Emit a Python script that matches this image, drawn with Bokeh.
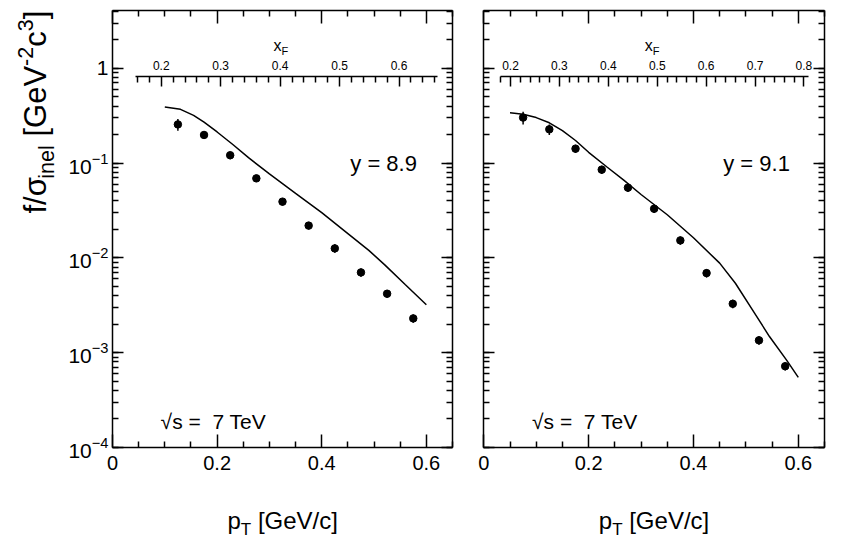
import numpy as np
from bokeh.plotting import figure
from bokeh.models import (Range1d, LinearAxis, LogAxis, FixedTicker, LogTicker,
                          CustomJSTickFormatter, Label)
from bokeh.layouts import row
from bokeh.embed import file_html
from bokeh.resources import INLINE

FONT = "Liberation Sans"

# ---------------- data ----------------
pt_left = [0.125, 0.175, 0.225, 0.275, 0.325, 0.375, 0.425, 0.475, 0.525, 0.575]
val_left = [0.256, 0.198, 0.121, 0.069, 0.0392, 0.0219, 0.0126, 0.00703, 0.00419, 0.00230]
err_left = [0.036, 0.018, 0.011, 0.006, 0.0035, 0.002, 0.0013, 0.0007, 0.0004, 0.00023]

model_pt_left = [0.10, 0.13, 0.155, 0.175, 0.20, 0.23, 0.26, 0.30, 0.35, 0.40, 0.45, 0.49, 0.52, 0.56, 0.60]
model_left = [0.391, 0.369, 0.319, 0.270, 0.213, 0.157, 0.114, 0.077, 0.048, 0.030, 0.018, 0.0120, 0.0085, 0.0052, 0.0032]

pt_right = [0.075, 0.125, 0.175, 0.225, 0.275, 0.325, 0.375, 0.425, 0.475, 0.525, 0.575]
val_right = [0.302, 0.227, 0.142, 0.0853, 0.0551, 0.0330, 0.0153, 0.00691, 0.00328, 0.00135, 0.00072]
err_right = [0.047, 0.029, 0.0142, 0.0085, 0.0055, 0.0033, 0.0015, 0.0007, 0.00033, 0.00014, 0.00007]

model_pt_right = [0.05, 0.075, 0.10, 0.125, 0.15, 0.175, 0.20, 0.235, 0.267, 0.30, 0.35, 0.40, 0.45, 0.48, 0.515, 0.545, 0.578, 0.60]
model_right = [0.340, 0.328, 0.302, 0.266, 0.220, 0.173, 0.130, 0.091, 0.066, 0.0466, 0.0285, 0.0163, 0.0088, 0.0054, 0.0027, 0.00148, 0.00083, 0.00055]

x_ticks = [0.0, 0.2, 0.4, 0.6]
x_minor = [0.05, 0.1, 0.15, 0.25, 0.3, 0.35, 0.45, 0.5, 0.55, 0.65]

xf_ticks_left = [0.2, 0.3, 0.4, 0.5, 0.6]
xf_ticks_right = [0.2, 0.3, 0.4, 0.5, 0.6, 0.7, 0.8]
xf_range_left = (0.118, 0.690)      # x_F at pT = 0 and pT = 0.65
xf_range_right = (0.1454, 0.842)
xf_bounds_left = (0.156, 0.665)
xf_bounds_right = (0.18, 0.81)
xf_minor_step = 0.02
xf_axis_y = 0.81

rap_left = "y = 8.9"
rap_right = "y = 9.1"
energy_text = "\u221as = \u00a07 TeV"

X_PANEL = (0.0, 0.65)
Y_PANEL = (1e-4, 4.07)

# ---------------- layout constants (pixels) ----------------
H = 539
FIG_W = (467, 378)
PANEL_PX_X = ((112.0, 452.0), (16.3, 357.0))   # panel box inside each figure
PANEL_PX_Y = (10.0, 447.0)                      # top, bottom

# Arial / Liberation Sans advance widths (per 1000 em)
W = {' ': 278, 'f': 278, '/': 278, '\u03c3': 568, 'i': 222, 'n': 556, 'e': 556, 'l': 222,
     '[': 278, ']': 278, 'G': 778, 'V': 667, '-': 333, '2': 556, 'c': 500, '3': 556,
     'p': 556, 'T': 611, 'x': 500, 'F': 611}


def text_width(t, size):
    return sum(W.get(ch, 556) for ch in t) * size / 1000.0


def rich(p, segs, x0, y0, angle=0.0):
    pos = 0.0
    for t, size, shift in segs:
        lead = len(t) - len(t.lstrip(" "))
        pos += text_width(" " * lead, size)
        t = t.lstrip(" ")
        if angle == 0.0:
            x, y = x0 + pos, y0 + shift
        else:
            x, y = x0 - shift, y0 + pos
        p.add_layout(Label(x=x, y=y, x_units="screen", y_units="screen", text=t,
                           angle=angle, text_font_size=f"{size}px", text_font=FONT,
                           text_color="black", text_align="left",
                           text_baseline="alphabetic"))
        pos += text_width(t, size)


def minor_list(bounds, majors, step):
    vals = np.arange(np.ceil(bounds[0] / step) * step, bounds[1] + 1e-9, step)
    out = []
    for v in vals:
        v = round(float(v), 3)
        if all(abs(v - m) > 1e-6 for m in majors):
            out.append(v)
    return out


def style_axis(ax, tin, tmin):
    ax.axis_line_color = "black"
    ax.axis_line_width = 1.5
    ax.major_tick_line_color = "black"
    ax.minor_tick_line_color = "black"
    ax.major_tick_line_width = 1.5
    ax.minor_tick_line_width = 1.5
    ax.major_tick_in = tin
    ax.major_tick_out = 0
    ax.minor_tick_in = tmin
    ax.minor_tick_out = 0
    ax.major_label_text_font = FONT
    ax.major_label_text_color = "black"


def blank(ax):
    ax.formatter = CustomJSTickFormatter(code="return '';")
    ax.major_label_standoff = 0
    ax.major_label_text_font_size = "0px"


def ranges(width, pxx):
    sx = (X_PANEL[1] - X_PANEL[0]) / (pxx[1] - pxx[0])
    x0 = X_PANEL[0] - pxx[0] * sx
    x1 = X_PANEL[0] + (width - pxx[0]) * sx
    ly0, ly1 = np.log10(Y_PANEL[0]), np.log10(Y_PANEL[1])
    sy = (ly1 - ly0) / (PANEL_PX_Y[1] - PANEL_PX_Y[0])
    y0 = 10 ** (ly0 - (H - PANEL_PX_Y[1]) * sy)
    y1 = 10 ** (ly1 + PANEL_PX_Y[0] * sy)
    return (x0, x1), (y0, y1)


def panel(pt, val, err, mpt, mval, xf_range, xf_bounds, xf_ticks, rap, rap_x,
          width, pxx, show_ylabels):
    xr, yr = ranges(width, pxx)
    p = figure(width=width, height=H, x_range=Range1d(*xr), y_range=Range1d(*yr),
               y_axis_type="log", x_axis_location=None, y_axis_location=None,
               output_backend="svg", toolbar_location=None,
               min_border=0, min_border_left=0, min_border_right=0,
               min_border_top=0, min_border_bottom=0)
    p.grid.visible = False
    p.outline_line_color = None
    p.background_fill_color = "white"
    p.border_fill_color = "white"

    # bottom axis
    xa = LinearAxis(fixed_location=Y_PANEL[0], bounds=X_PANEL,
                    ticker=FixedTicker(ticks=x_ticks, minor_ticks=x_minor),
                    formatter=CustomJSTickFormatter(code="return tick == 0 ? '0' : tick.toFixed(1);"))
    style_axis(xa, 13, 6)
    xa.major_label_text_font_size = "20px"
    xa.major_label_standoff = 8
    p.add_layout(xa, "below")

    # top mirror axis
    ta = LinearAxis(fixed_location=Y_PANEL[1], bounds=X_PANEL,
                    ticker=FixedTicker(ticks=x_ticks, minor_ticks=x_minor))
    style_axis(ta, 13, 6)
    blank(ta)
    p.add_layout(ta, "above")

    # left axis
    ya = LogAxis(fixed_location=X_PANEL[0], bounds=Y_PANEL,
                 ticker=LogTicker(num_minor_ticks=10))
    style_axis(ya, 11, 6)
    ya.major_label_text_font_size = "21px"
    ya.major_label_standoff = 4
    if show_ylabels:
        ya.major_label_overrides = {1.0: "1"}
    else:
        blank(ya)
    p.add_layout(ya, "left")

    # right mirror axis
    ra = LogAxis(fixed_location=X_PANEL[1], bounds=Y_PANEL,
                 ticker=LogTicker(num_minor_ticks=10))
    style_axis(ra, 11, 6)
    blank(ra)
    p.add_layout(ra, "right")

    # x_F axis inside the panel (linear in pT)
    k = (xf_range[1] - xf_range[0]) / (X_PANEL[1] - X_PANEL[0])
    xf_full = (xf_range[0] + (xr[0] - X_PANEL[0]) * k, xf_range[0] + (xr[1] - X_PANEL[0]) * k)
    p.extra_x_ranges = {"xf": Range1d(*xf_full)}
    fa = LinearAxis(x_range_name="xf", fixed_location=xf_axis_y, bounds=xf_bounds,
                    ticker=FixedTicker(ticks=xf_ticks,
                                       minor_ticks=minor_list(xf_bounds, xf_ticks, xf_minor_step)),
                    formatter=CustomJSTickFormatter(code="return tick.toFixed(1);"))
    style_axis(fa, 10, 6)
    fa.major_label_text_font_size = "12px"
    fa.major_label_standoff = 7
    p.add_layout(fa, "above")

    # data
    lo = [v - e for v, e in zip(val, err)]
    hi = [v + e for v, e in zip(val, err)]
    p.segment(x0=pt, y0=lo, x1=pt, y1=hi, line_color="black", line_width=1.5)
    p.scatter(pt, val, size=7.5, marker="circle", fill_color="black", line_color="black")
    p.line(mpt, mval, line_color="black", line_width=1.5)

    # texts
    p.add_layout(Label(x=rap_x, y=0.1, text=rap, text_font=FONT, text_font_size="22px",
                       text_align="right", text_baseline="alphabetic", text_color="black"))
    p.add_layout(Label(x=0.092, y=1.88e-4, text=energy_text, text_font=FONT,
                       text_font_size="21px", text_align="left",
                       text_baseline="alphabetic", text_color="black"))

    # x_F axis label
    rich(p, [("x", 16, 0), ("F", 11, -5)], pxx[0] + 161, H - 45)
    # bottom axis label
    rich(p, [("p", 24, 0), ("T", 17, -9), (" [GeV/c]", 24, 0)], pxx[0] + 115, H - 520)
    return p


p1 = panel(pt_left, val_left, err_left, model_pt_left, model_left,
           xf_range_left, xf_bounds_left, xf_ticks_left, rap_left, 0.582,
           FIG_W[0], PANEL_PX_X[0], True)
rich(p1, [("f/\u03c3", 31, 0), ("inel", 21.5, -11), (" [GeV", 31, 0), ("-2", 21.5, 10),
          ("c", 31, 0), ("3", 21.5, 10), ("]", 31, 0)], 35, H - 213, angle=np.pi / 2)

p2 = panel(pt_right, val_right, err_right, model_pt_right, model_right,
           xf_range_right, xf_bounds_right, xf_ticks_right, rap_right, 0.584,
           FIG_W[1], PANEL_PX_X[1], False)

layout = row(p1, p2)
open("out.html", "w").write(file_html(layout, INLINE))
